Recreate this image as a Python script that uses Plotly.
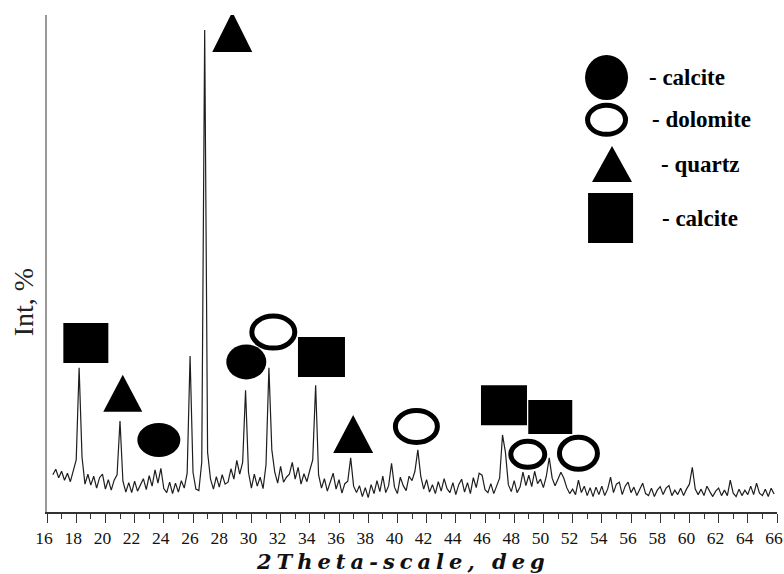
import numpy as np
import plotly.graph_objects as go

# ---------------- data ----------------
scan_start, scan_step = 16.4, 0.2
intensity = [
    7.5, 8.6, 6.9, 8.2, 6.4, 7.8, 6.1, 8.4, 10.5, 29.0,      # 16.4-18.2
    11.0, 5.6, 7.6, 5.4, 7.2, 4.8, 6.9, 7.6, 4.6, 6.5,       # 18.4-20.2
    4.4, 6.4, 7.5, 18.3, 6.2, 4.0, 5.9, 3.9, 6.2, 4.2,       # 20.4-22.2
    5.6, 6.7, 4.5, 7.3, 5.2, 8.5, 5.8, 8.8, 4.7, 3.9,        # 22.4-24.2
    6.0, 3.7, 5.8, 4.0, 6.3, 4.8, 7.8, 31.4, 8.0, 4.6,       # 24.4-26.2
    4.3, 10.0, 97.0, 12.0, 6.6, 4.6, 7.1, 5.0, 7.5, 5.6,     # 26.4-28.2
    6.0, 8.7, 6.6, 10.4, 7.6, 10.0, 24.5, 8.0, 4.8, 7.6,     # 28.4-30.2
    5.2, 7.0, 4.7, 9.5, 29.0, 12.5, 8.0, 5.8, 9.2, 6.0,      # 30.4-32.2
    7.0, 7.6, 10.0, 6.6, 9.0, 5.6, 7.7, 6.1, 8.4, 10.5,      # 32.4-34.2
    25.5, 7.5, 4.8, 6.7, 4.2, 6.1, 7.8, 4.6, 6.5, 3.8,       # 34.4-36.2
    5.7, 6.2, 10.9, 5.2, 3.9, 5.3, 3.1, 4.9, 2.9, 5.5,       # 36.4-38.2
    3.7, 6.3, 4.1, 7.2, 3.9, 5.3, 9.8, 5.0, 3.7, 7.0,        # 38.4-40.2
    5.3, 4.3, 7.2, 6.3, 8.2, 12.5, 7.2, 4.6, 6.5, 4.0,       # 40.4-42.2
    5.5, 3.7, 6.1, 4.2, 6.7, 4.7, 3.9, 5.9, 3.5, 5.5,        # 42.4-44.2
    6.6, 4.0, 5.9, 3.7, 6.9, 4.9, 7.8, 7.4, 4.5, 3.9,        # 44.4-46.2
    5.7, 3.7, 5.2, 6.8, 15.5, 12.0, 5.5, 4.1, 6.3, 3.9,      # 46.4-48.2
    5.0, 8.0, 5.3, 7.4, 5.1, 8.2, 5.7, 6.6, 4.9, 7.2,        # 48.4-50.2
    10.9, 6.8, 5.3, 6.6, 8.0, 6.8, 4.9, 3.7, 4.6, 3.5,       # 50.4-52.2
    6.4, 3.9, 5.2, 3.3, 4.9, 3.1, 5.0, 3.5, 5.2, 3.3,        # 52.4-54.2
    4.6, 7.0, 3.9, 5.6, 6.0, 3.5, 5.2, 6.0, 3.9, 5.0,        # 54.4-56.2
    3.3, 4.6, 5.8, 3.7, 3.3, 4.8, 3.1, 4.4, 5.1, 3.5,        # 56.4-58.2
    4.8, 5.3, 3.3, 4.4, 3.5, 4.8, 3.3, 4.6, 5.6, 9.0,        # 58.4-60.2
    4.6, 3.5, 4.6, 3.3, 5.2, 4.1, 3.1, 4.2, 4.8, 3.3,        # 60.4-62.2
    4.4, 3.3, 6.4, 3.8, 3.1, 4.6, 3.3, 4.4, 3.5, 5.2,        # 62.4-64.2
    3.5, 5.8, 3.8, 3.3, 4.6, 3.1, 4.8, 3.6,                  # 64.4-65.8
]
two_theta = np.round(scan_start + scan_step * np.arange(len(intensity)), 1)

# phase identification marks (2theta, label height)
calcite_circle_x = [23.66, 29.65]
calcite_circle_y = [14.5, 30.2]
dolomite_x = [31.5, 41.3, 48.93, 52.4]
dolomite_y = [36.2, 17.2, 11.6, 11.8]
quartz_x = [21.19, 28.69, 36.97]
quartz_y = [23.9, 96.6, 15.7]
calcite_square_x = [18.66, 34.8, 47.3, 50.47]
calcite_square_y = [34.0, 31.2, 21.5, 19.1]

legend_labels = ["- calcite", "- dolomite", "- quartz", "- calcite"]
x_ticks = list(range(16, 67, 2))

# ---------------- styles ----------------
circle_px = [(43, 34), (40, 35)]
dolomite_px = [(43, 32), (42, 32), (34, 26), (38, 32)]
quartz_px = [(39, 37), (40, 40), (40, 38)]
square_px = [(45, 40), (47, 40), (46, 40), (44, 34)]
RING = 5

fig = go.Figure()
fig.add_trace(go.Scatter(x=two_theta, y=intensity, mode="lines",
                         line=dict(color="#1e1e1e", width=1.2),
                         showlegend=False, hoverinfo="skip"))


def ellipse(xa, ya, w, h, filled, xref="x", yref="y", lw=RING):
    fig.add_shape(type="circle", xref=xref, yref=yref,
                  xsizemode="pixel", ysizemode="pixel",
                  xanchor=xa, yanchor=ya,
                  x0=-w / 2, x1=w / 2, y0=-h / 2, y1=h / 2,
                  fillcolor="black" if filled else "white",
                  line=dict(color="black", width=0 if filled else lw))


def rect(xa, ya, w, h, xref="x", yref="y"):
    fig.add_shape(type="rect", xref=xref, yref=yref,
                  xsizemode="pixel", ysizemode="pixel",
                  xanchor=xa, yanchor=ya,
                  x0=-w / 2, x1=w / 2, y0=-h / 2, y1=h / 2,
                  fillcolor="black", line=dict(width=0))


def tri(xa, ya, w, h, xref="x", yref="y"):
    fig.add_shape(type="path", xref=xref, yref=yref,
                  xsizemode="pixel", ysizemode="pixel",
                  xanchor=xa, yanchor=ya,
                  path=f"M {-w/2},{-h/2} L {w/2},{-h/2} L 0,{h/2} Z",
                  fillcolor="black", line=dict(width=0))


for (xa, ya), (w, h) in zip(zip(calcite_circle_x, calcite_circle_y), circle_px):
    ellipse(xa, ya, w, h, True)
for (xa, ya), (w, h) in zip(zip(dolomite_x, dolomite_y), dolomite_px):
    ellipse(xa, ya, w, h, False)
for (xa, ya), (w, h) in zip(zip(quartz_x, quartz_y), quartz_px):
    tri(xa, ya, w, h)
for (xa, ya), (w, h) in zip(zip(calcite_square_x, calcite_square_y), square_px):
    rect(xa, ya, w, h)

# ---------------- custom legend ----------------
leg_sym_x = [0.7665, 0.7665, 0.774, 0.772]
leg_sym_y = [0.874, 0.789, 0.700, 0.5915]
leg_txt_x = [0.822, 0.826, 0.8384, 0.840]
ellipse(leg_sym_x[0], leg_sym_y[0], 43, 45, True, "paper", "paper")
ellipse(leg_sym_x[1], leg_sym_y[1], 38, 29, False, "paper", "paper", lw=5)
tri(leg_sym_x[2], leg_sym_y[2], 40, 36, "paper", "paper")
rect(leg_sym_x[3], leg_sym_y[3], 45, 50, "paper", "paper")
for lab, tx, ty in zip(legend_labels, leg_txt_x, leg_sym_y):
    fig.add_annotation(text=lab, x=tx, y=ty, xref="paper", yref="paper",
                       xanchor="left", yanchor="middle", showarrow=False,
                       font=dict(family="Liberation Serif", size=23, color="#000",
                                 weight="bold"))

# ---------------- axis titles ----------------
fig.add_annotation(text="Int, %", x=-0.0325, y=0.4225, xref="paper", yref="paper",
                   textangle=-90, showarrow=False, xanchor="center", yanchor="middle",
                   font=dict(family="Liberation Serif", size=28, color="#222"))
fig.add_annotation(text='<span style="letter-spacing:5px">2Theta-scale, deg</span>',
                   x=0.488, y=-0.1006, xref="paper", yref="paper",
                   showarrow=False, xanchor="center", yanchor="middle",
                   font=dict(family="DejaVu Serif", size=21, color="#111",
                             weight="bold", style="italic"))

fig.update_layout(
    width=784, height=574,
    margin=dict(l=47, r=7, t=15, b=62, autoexpand=False),
    plot_bgcolor="white", paper_bgcolor="white",
    showlegend=False,
    xaxis=dict(range=[16, 66], tickvals=x_ticks, ticks="outside", ticklen=9,
               tickwidth=1.3, tickcolor="#333", showline=True, linecolor="#333",
               linewidth=1.5, showgrid=False, zeroline=False,
               automargin=False, ticklabeloverflow="allow", ticklabelshift=-3,
               tickfont=dict(family="Liberation Serif", size=17.5, color="#111"),
               minor=dict(dtick=1, ticks="outside", ticklen=5, tickcolor="#333",
                          tickwidth=1.2, showgrid=False)),
    yaxis=dict(range=[0, 100], showticklabels=False, ticks="", showline=True,
               linecolor="#999", linewidth=1.5, showgrid=False, zeroline=False),
)

fig.write_html("out.html")
